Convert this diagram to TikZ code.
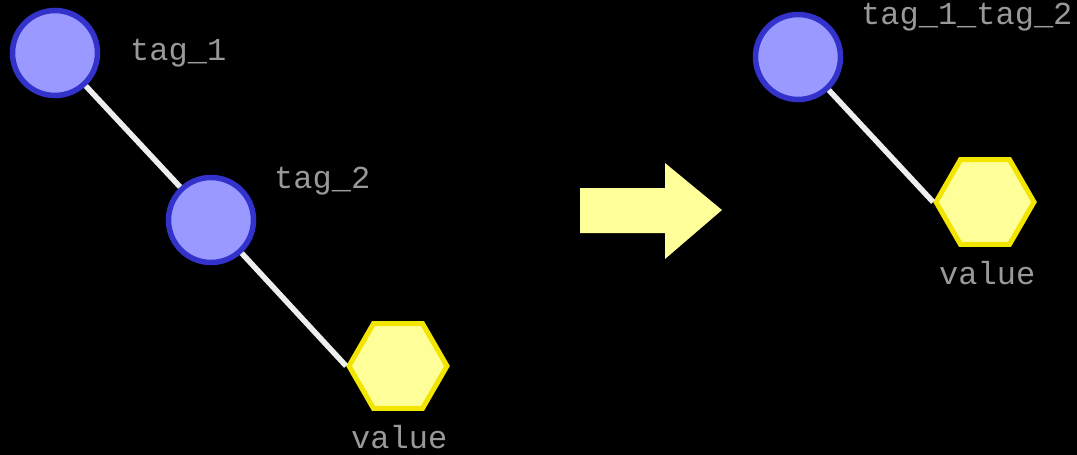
\documentclass[tikz,border=0pt]{standalone}
\usepackage{fontspec}
\newfontfamily\monofnt{Liberation Mono}
\usetikzlibrary{shapes.geometric}
\definecolor{circfill}{HTML}{9999FF}
\definecolor{circline}{HTML}{3333CC}
\definecolor{hexfill}{HTML}{FFFF99}
\definecolor{hexline}{HTML}{F2E600}
\definecolor{edgecol}{HTML}{EEEEEE}
\definecolor{txtcol}{HTML}{999999}
\begin{document}
\begin{tikzpicture}[x=1pt,y=-1pt,
  tagnode/.style={circle,draw=circline,fill=circfill,line width=5.5pt,minimum size=85pt,inner sep=0pt},
  valnode/.style={regular polygon,regular polygon sides=6,draw=hexline,fill=hexfill,line width=5pt,minimum size=98pt,inner sep=0pt},
  lbl/.style={anchor=base west,inner sep=0pt,text=txtcol,font=\monofnt\fontsize{32}{38}\selectfont},
  edge/.style={draw=edgecol,line width=5.5pt}]
\fill[black] (0,0) rectangle (1077,455);
\useasboundingbox (0,0) rectangle (1077,455);
% left graph
\node[tagnode] (t1) at (55,53) {};
\node[tagnode] (t2) at (211,220) {};
\node[valnode] (v1) at (398,366) {};
\node[lbl] (l1) at (130,60) {tag\_1};
\node[lbl] (l2) at (274,188) {tag\_2};
\node[lbl] (l3) at (351,448) {value};
\draw[edge] (t1) -- (t2);
\draw[edge] (t2) -- (v1.west);
% arrow
\fill[hexfill] (580,188) -- (665,188) -- (665,163) -- (722,210) -- (665,259) -- (665,233) -- (580,233) -- cycle;
% right graph
\node[tagnode] (t3) at (798,57) {};
\node[valnode] (v2) at (985,202) {};
\node[lbl] (l4) at (861,24) {tag\_1\_tag\_2};
\node[lbl] (l5) at (939,284) {value};
\draw[edge] (t3) -- (v2.west);
\end{tikzpicture}
\end{document}
